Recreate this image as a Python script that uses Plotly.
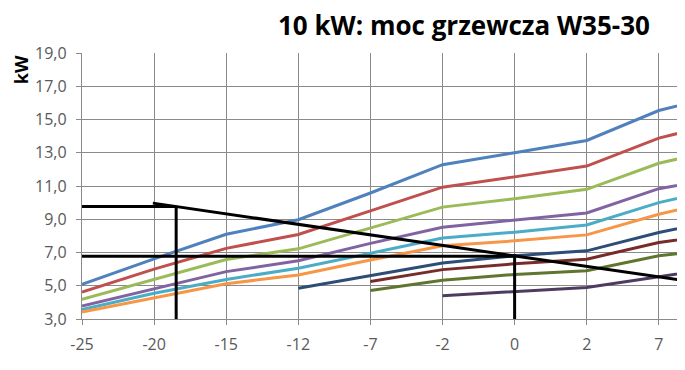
import plotly.graph_objects as go

categories = ["-25", "-20", "-15", "-12", "-7", "-2", "0", "2", "7", "10"]

s_blue = [5.08, 6.62, 8.10, 8.97, 10.58, 12.28, 13.00, 13.74, 15.54, 16.60]
s_red = [4.62, 6.00, 7.25, 8.08, 9.50, 10.93, 11.55, 12.20, 13.88, 14.95]
s_green = [4.18, 5.40, 6.58, 7.22, 8.47, 9.73, 10.23, 10.80, 12.37, 13.35]
s_purple = [3.78, 4.80, 5.85, 6.50, 7.55, 8.52, 8.96, 9.38, 10.84, 11.60]
s_aqua = [3.57, 4.55, 5.38, 6.05, 6.95, 7.87, 8.22, 8.66, 10.00, 11.00]
s_orange = [3.42, 4.27, 5.12, 5.65, 6.55, 7.40, 7.70, 8.06, 9.30, 10.30]
s_darkblue = [None, None, None, 4.85, 5.63, 6.37, 6.80, 7.10, 8.20, 9.10]
s_darkred = [None, None, None, None, 5.26, 5.97, 6.32, 6.60, 7.60, 8.20]
s_darkgreen = [None, None, None, None, 4.72, 5.33, 5.68, 5.90, 6.80, 7.30]
s_darkpurple = [None, None, None, None, None, 4.40, 4.64, 4.90, 5.54, 6.20]

series = [
    (s_blue, "#4F81BD"),
    (s_red, "#C0504D"),
    (s_green, "#9BBB59"),
    (s_purple, "#8064A2"),
    (s_aqua, "#4BACC6"),
    (s_orange, "#F79646"),
    (s_darkblue, "#2C4D75"),
    (s_darkred, "#772C2A"),
    (s_darkgreen, "#5F7530"),
    (s_darkpurple, "#4D3B62"),
]

# hand-drawn reading lines (category index, value)
guide_lines = [
    ((0.0, 9.77), (1.306, 9.77)),
    ((1.306, 9.77), (1.306, 3.0)),
    ((0.983, 9.97), (8.363, 5.30)),
    ((-0.05, 6.78), (6.0, 6.78)),
    ((6.0, 6.90), (6.0, 2.9)),
]

fig = go.Figure()
for vals, col in series:
    fig.add_trace(go.Scatter(
        x=categories, y=vals, mode="lines",
        line=dict(color=col, width=3), connectgaps=False,
        showlegend=False, hoverinfo="skip",
    ))

for (x0, y0), (x1, y1) in guide_lines:
    fig.add_shape(type="line", xref="x", yref="y", x0=x0, y0=y0, x1=x1, y1=y1,
                  line=dict(color="black", width=3), layer="above")

grid = "#8A8A8A"
tickfont = dict(family="Open Sans", size=16, color="#595959")

# the page body adds an 8px offset, so the figure is sized to fill the rest of the window
fig.update_layout(
    width=677, height=362,
    margin=dict(l=74, r=0, t=45, b=51, autoexpand=False),
    paper_bgcolor="white", plot_bgcolor="white",
    separators=",.",
    xaxis=dict(
        type="category", categoryorder="array", categoryarray=categories,
        range=[0, 8.363], showgrid=True, gridcolor=grid, gridwidth=1.3,
        showline=True, linecolor=grid, linewidth=1.3,
        ticks="outside", ticklen=5, tickcolor=grid, tickwidth=1.3,
        tickfont=tickfont, ticklabelstandoff=6, zeroline=False, automargin=False,
    ),
    yaxis=dict(
        range=[3, 19], tick0=3, dtick=2, tickformat=".1f",
        showgrid=True, gridcolor=grid, gridwidth=1.3,
        showline=True, linecolor=grid, linewidth=1.3,
        ticks="outside", ticklen=5, tickcolor=grid, tickwidth=1.3,
        tickfont=tickfont, ticklabelstandoff=6, zeroline=False, automargin=False,
    ),
    annotations=[
        dict(text="<b>10 kW: moc grzewcza W35-30</b>", xref="paper", yref="paper",
             x=0.633, y=1.107, xanchor="center", yanchor="middle", showarrow=False,
             font=dict(family="Open Sans", size=26, color="black")),
        dict(text="<b>kW</b>", xref="paper", yref="paper",
             x=-0.1, y=0.938, xanchor="center", yanchor="middle", showarrow=False,
             textangle=-90, borderpad=0,
             font=dict(family="Open Sans", size=18, color="black")),
    ],
)

fig.write_html("out.html")
